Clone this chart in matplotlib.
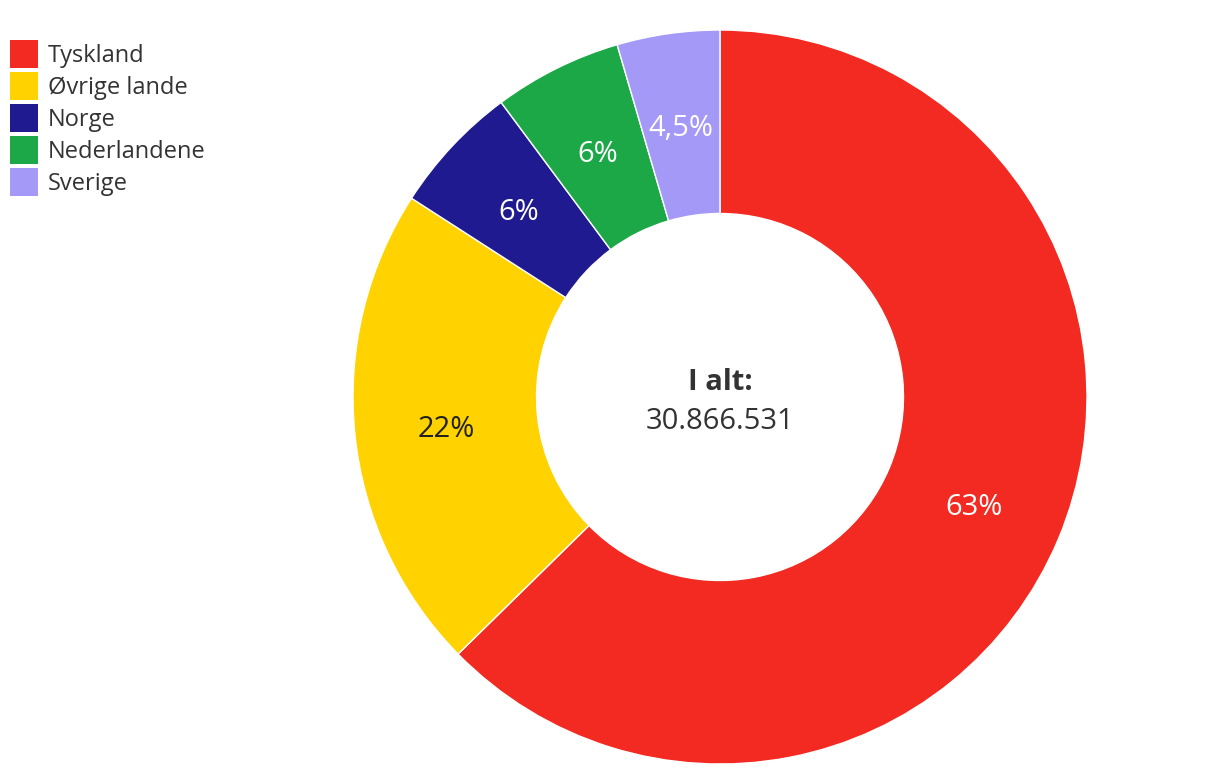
import numpy as np
import matplotlib.pyplot as plt
from matplotlib.patches import Rectangle

plt.rcParams['font.family'] = ['Open Sans', 'DejaVu Sans']

countries = ['Tyskland', 'Øvrige lande', 'Norge', 'Nederlandene', 'Sverige']
shares = [62.65, 21.46, 5.72, 5.65, 4.52]
pct_labels = ['63%', '22%', '6%', '6%', '4,5%']
colors = ['#F22A21', '#FFD200', '#1F1A8F', '#1CA846', '#A599F7']
label_colors = ['white', '#222222', 'white', 'white', 'white']
total_text = '30.866.531'

W, H = 1220, 776
fig = plt.figure(figsize=(W / 100, H / 100), dpi=100)
ax = fig.add_axes([353 / W, 12 / H, 734 / W, 734 / H])

wedges, _ = ax.pie(shares, colors=colors, startangle=90, counterclock=False,
                   radius=1, wedgeprops=dict(width=0.5, edgecolor='white', linewidth=1))

# percentage labels in the middle of the ring
for w, lab, c in zip(wedges, pct_labels, label_colors):
    ang = np.deg2rad((w.theta1 + w.theta2) / 2)
    ax.text(0.75 * np.cos(ang), 0.75 * np.sin(ang) - 0.011, lab, ha='center', va='center',
            fontsize=21, color=c)

ax.text(0, 0.02, 'I alt:', ha='center', va='baseline', fontsize=21, fontweight='bold', color='#333333')
ax.text(0, -0.087, total_text, ha='center', va='baseline', fontsize=21, color='#333333')

ax.set_xlim(-1, 1)
ax.set_ylim(-1, 1)
ax.set_aspect('equal')
ax.axis('off')

# legend, drawn by hand in pixel positions
for i, (name, col) in enumerate(zip(countries, colors)):
    top = 40 + 32 * i
    fig.patches.append(Rectangle((10 / W, 1 - (top + 28) / H), 28 / W, 28 / H,
                                 transform=fig.transFigure, facecolor=col, edgecolor='none'))
    fig.text(48 / W, 1 - (top + 22) / H, name, ha='left', va='baseline',
             fontsize=17, color='#333333')

fig.savefig('out.png', dpi=100, facecolor='white')
